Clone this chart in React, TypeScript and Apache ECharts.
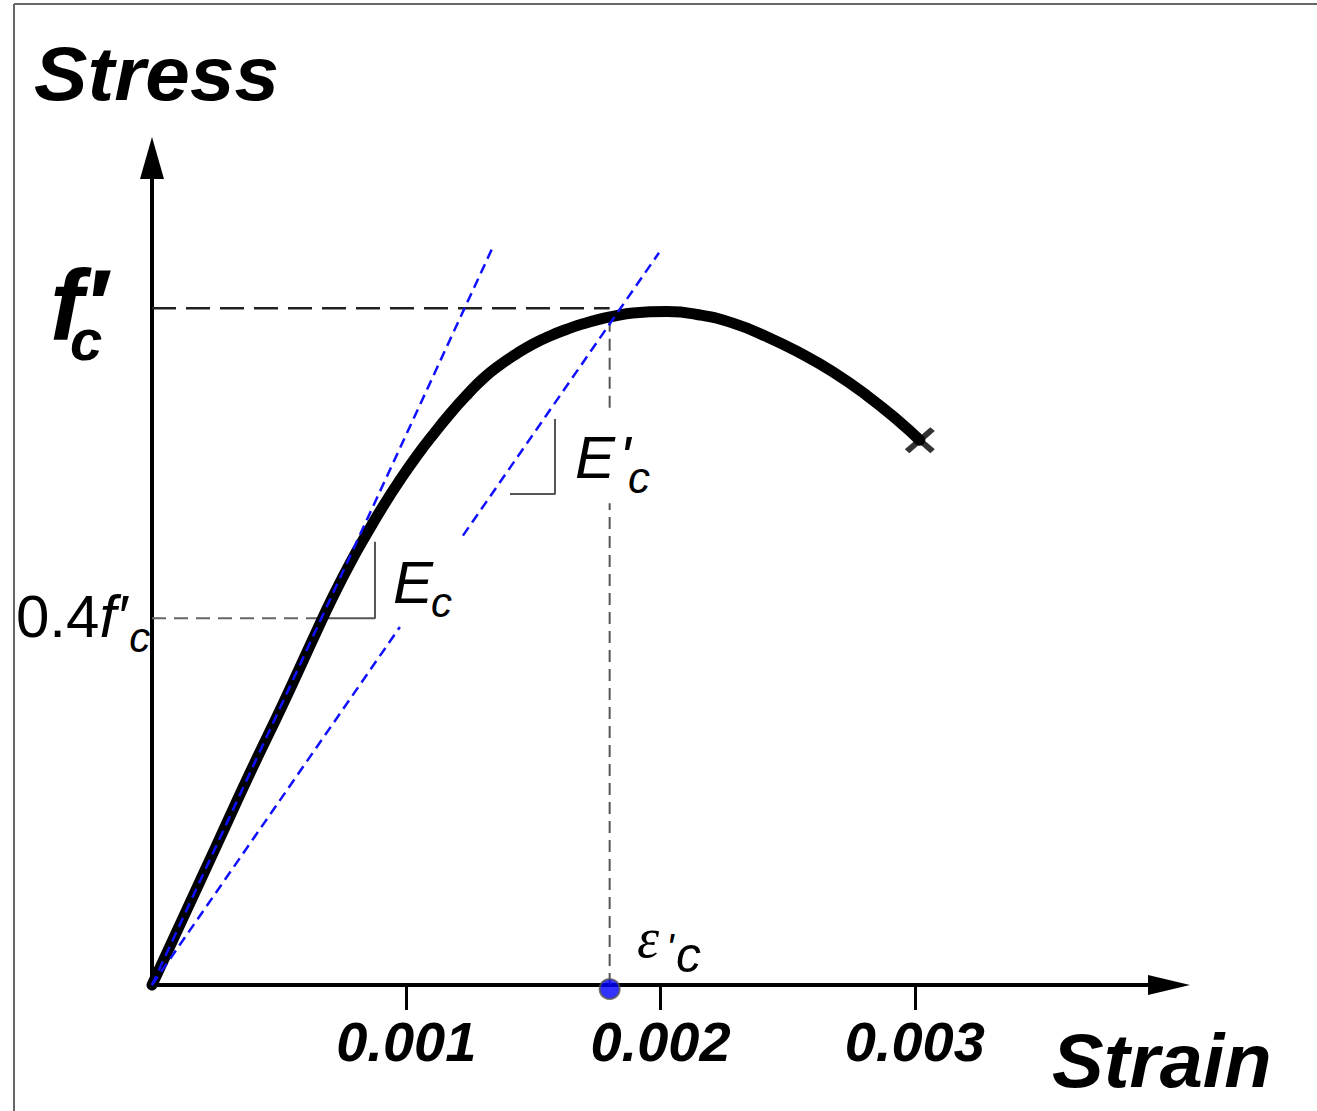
import React, { useEffect, useRef } from 'react';
import * as echarts from 'echarts';

// ---- data (strain, stress normalised to f'c) ----
const curveStrain = [0, 0.000122, 0.000256, 0.000385, 0.000515, 0.000649, 0.000712, 0.000779, 0.000845, 0.000908, 0.000975, 0.001042, 0.001105, 0.001172, 0.001239, 0.001302, 0.001368, 0.001435, 0.001498, 0.001565, 0.001632, 0.001695, 0.001762, 0.001813, 0.001891, 0.002025, 0.002155, 0.002285, 0.002418, 0.002548, 0.002678, 0.002812, 0.002941, 0.00302];
const curveStress = [0, 0.099, 0.208, 0.313, 0.415, 0.524, 0.574, 0.623, 0.667, 0.707, 0.746, 0.782, 0.813, 0.844, 0.872, 0.896, 0.916, 0.933, 0.947, 0.959, 0.969, 0.977, 0.984, 0.988, 0.993, 0.995, 0.990, 0.978, 0.958, 0.934, 0.906, 0.871, 0.832, 0.805];

const tangentStrain = [0, 0.00134];
const tangentStress = [0, 1.09];

const secantStrain = [0, 0.000975, 0.000975, 0.001223, 0.001994];
const secantStress: (number | string)[] = [0, 0.529, '-', 0.664, 1.082];

const fcStress = 1.0;
const fc04Stress = 0.542;
const epsC = 0.0018;
const fcLineStrain = [0, 0.0018];
const fc04LineStrain = [0, 0.000672];
const epsLineStress: (number | string)[] = [0, 0.712, '-', 0.853, 0.99];

const ecBracketStrain = [0.000672, 0.000877, 0.000877];
const ecBracketStress = [0.542, 0.542, 0.655];
const ec2BracketStrain = [0.001408, 0.001585, 0.001585];
const ec2BracketStress = [0.7255, 0.7255, 0.8363];

const crushStrain = 0.00302;
const crushStress = 0.805;

const xTickValues = [0.001, 0.002, 0.003];
const xMin = 0;
const xMax = 0.004;
const yMin = 0;
const yMax = 1.222;

const SANS = '"Liberation Sans", Arial, Helvetica, sans-serif';
const SERIF = '"Liberation Serif", "Times New Roman", serif';

const zip = (xs: number[], ys: (number | string)[]) => xs.map((x, i) => [x, ys[i]]);

function txt(text: string, x: number, baseline: number, size: number, opts: any = {}) {
  const central = baseline - 0.3465 * size;
  return {
    type: 'text',
    x,
    y: central,
    z: 100,
    scaleX: opts.scaleX || 1,
    style: {
      text,
      fill: '#000',
      fontSize: size,
      fontFamily: opts.family || SANS,
      fontWeight: opts.weight || 'normal',
      fontStyle: opts.style || 'normal',
      align: 'left',
      verticalAlign: 'middle',
    },
  };
}

const tok = (size: number, extra: any = {}) => ({
  fontSize: size,
  fontFamily: SANS,
  fill: '#000',
  ...extra,
});

// f'c (bold) : f with prime, c stacked below
const fcLabel = {
  type: 'text',
  x: 50,
  y: 288.4,
  z: 100,
  style: {
    text: '{f|f}{p|\u2032}\n{c|c}',
    align: 'left',
    verticalAlign: 'top',
    rich: {
      f: tok(100, { fontWeight: 'bold', fontStyle: 'italic', lineHeight: 34 }),
      p: tok(100, { fontWeight: 'bold', fontStyle: 'italic', lineHeight: 34 }),
      c: tok(58, { fontWeight: 'bold', fontStyle: 'italic', lineHeight: 35, padding: [0, 0, 0, 20] }),
    },
  },
};

// 0.4f'c
const fc04Label = {
  type: 'text',
  x: 16,
  y: 586.2,
  z: 100,
  style: {
    text: '{n|0.4}{i|f\u2032}{c|c}',
    align: 'left',
    verticalAlign: 'top',
    rich: {
      n: tok(60, { lineHeight: 60 }),
      i: tok(60, { fontStyle: 'italic', lineHeight: 60 }),
      c: tok(42, { fontStyle: 'italic', lineHeight: 60, padding: [42, 0, 0, 2] }),
    },
  },
};

const X_SYMBOL = 'path://M0,3 L3,0 L10,7 L17,0 L20,3 L13,10 L20,17 L17,20 L10,13 L3,20 L0,17 L7,10 Z';

const option: any = {
  animation: false,
  backgroundColor: '#ffffff',
  grid: { left: 152, right: 148, top: 158, bottom: 126, containLabel: false },
  xAxis: {
    type: 'value',
    min: xMin,
    max: xMax,
    splitLine: { show: false },
    axisLine: {
      show: true,
      onZero: false,
      symbol: ['none', 'triangle'],
      symbolSize: [20, 42],
      lineStyle: { color: '#000', width: 4 },
    },
    axisTick: { show: true, customValues: xTickValues, length: 25, lineStyle: { color: '#000', width: 3 } },
    axisLabel: {
      show: true,
      customValues: xTickValues,
      formatter: (v: number) => v.toFixed(3),
      margin: 28,
      color: '#000',
      fontFamily: SANS,
      fontStyle: 'italic',
      fontWeight: 'bold',
      fontSize: 56,
    },
  },
  yAxis: {
    type: 'value',
    min: yMin,
    max: yMax,
    splitLine: { show: false },
    axisLine: {
      show: true,
      onZero: false,
      symbol: ['none', 'triangle'],
      symbolSize: [24, 42],
      lineStyle: { color: '#000', width: 4 },
    },
    axisTick: { show: false },
    axisLabel: { show: false },
  },
  graphic: [
    { type: 'line', shape: { x1: 14, y1: 4, x2: 1317, y2: 4 }, style: { stroke: '#666', lineWidth: 2 } },
    { type: 'line', shape: { x1: 14, y1: 4, x2: 14, y2: 1111 }, style: { stroke: '#666', lineWidth: 2 } },
    txt('Stress', 34, 100, 76, { weight: 'bold', style: 'italic', scaleX: 1.055 }),
    txt('Strain', 1052, 1087, 76, { weight: 'bold', style: 'italic', scaleX: 1.02 }),
    fcLabel,
    fc04Label,
    txt('E', 393, 603, 60, { style: 'italic' }),
    txt('c', 431, 617, 42, { style: 'italic' }),
    txt('E', 575, 478, 60, { style: 'italic' }),
    txt("'", 619, 478, 60, { style: 'italic' }),
    txt('c', 628, 493, 44, { style: 'italic' }),
    txt('\u03b5', 637, 957, 56, { style: 'italic', family: SERIF }),
    txt("'", 666, 962, 40, { style: 'italic' }),
    txt('c', 676, 972, 50, { style: 'italic' }),
  ],
  series: [
    {
      type: 'line', name: 'fc', silent: true, clip: false, symbol: 'none',
      data: fcLineStrain.map((x) => [x, fcStress]),
      lineStyle: { color: '#222', width: 2.5, type: [24, 10] },
    },
    {
      type: 'line', name: 'fc04', silent: true, clip: false, symbol: 'none',
      data: fc04LineStrain.map((x) => [x, fc04Stress]),
      lineStyle: { color: '#666', width: 2, type: [14, 8] },
    },
    {
      type: 'line', name: 'eps', silent: true, clip: false, symbol: 'none', connectNulls: false,
      data: epsLineStress.map((y) => [epsC, y]),
      lineStyle: { color: '#555', width: 2, type: [12, 7] },
    },
    {
      type: 'line', name: 'ecBracket', silent: true, clip: false, symbol: 'none',
      data: zip(ecBracketStrain, ecBracketStress),
      lineStyle: { color: '#555', width: 2 },
    },
    {
      type: 'line', name: 'ec2Bracket', silent: true, clip: false, symbol: 'none',
      data: zip(ec2BracketStrain, ec2BracketStress),
      lineStyle: { color: '#555', width: 2 },
    },
    {
      type: 'line', name: 'curve', silent: true, clip: false, symbol: 'none', smooth: 0.5,
      data: zip(curveStrain, curveStress),
      lineStyle: { color: '#000', width: 11, cap: 'round', join: 'round' },
    },
    {
      type: 'line', name: 'tangent', silent: true, clip: false, symbol: 'none',
      data: zip(tangentStrain, tangentStress),
      lineStyle: { color: '#1010ff', width: 2.5, type: [10, 6] },
    },
    {
      type: 'line', name: 'secant', silent: true, clip: false, symbol: 'none', connectNulls: false,
      data: zip(secantStrain, secantStress),
      lineStyle: { color: '#1010ff', width: 2.5, type: [10, 6] },
    },
    {
      type: 'scatter', name: 'epsDot', silent: true, clip: false,
      data: [[epsC, 0]],
      symbol: 'circle', symbolSize: 20, symbolOffset: [0, 4],
      itemStyle: { color: '#0000ff', borderColor: '#555', borderWidth: 2 },
      z: 5,
    },
    {
      type: 'scatter', name: 'crush', silent: true, clip: false,
      data: [[crushStrain, crushStress]],
      symbol: X_SYMBOL, symbolSize: [30, 26],
      itemStyle: { color: '#000' },
      z: 5,
    },
  ],
};

export default function App() {
  const ref = useRef<HTMLDivElement>(null);
  useEffect(() => {
    const chart = echarts.init(ref.current as HTMLDivElement, null, { renderer: 'svg' });
    chart.setOption(option);
    return () => chart.dispose();
  }, []);
  return (
    <div
      ref={ref}
      style={{ position: 'absolute', left: 0, top: 0, width: 1317, height: 1111, background: '#fff' }}
    />
  );
}
